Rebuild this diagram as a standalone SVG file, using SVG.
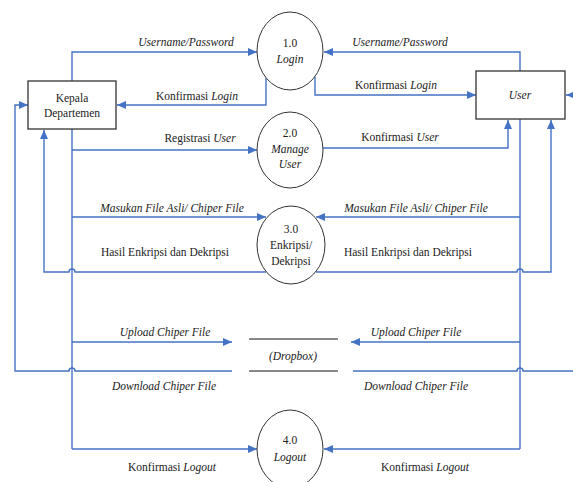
<svg xmlns="http://www.w3.org/2000/svg" width="573" height="482" viewBox="0 0 573 482">
<style>
text{font-family:"Liberation Serif","Times New Roman",serif;font-size:11.5px;fill:#222;text-anchor:middle}
.i{font-style:italic}
.c{fill:#fff;stroke:#333;stroke-width:1}
.b{fill:#fff;stroke:#333;stroke-width:1.3}
.f{fill:none;stroke:#4472C4;stroke-width:1.4}
.a{marker-end:url(#ah)}
.s{stroke:#111;stroke-width:1}
</style>
<defs>
<marker id="ah" markerUnits="userSpaceOnUse" markerWidth="10" markerHeight="8" refX="9" refY="4" orient="auto">
<path d="M0,0 L9,4 L0,8 Z" fill="#4472C4"/>
</marker>
</defs>
<rect width="573" height="482" fill="#fff"/>
<g id="connectors">
<path class="f a" d="M72 81 V52 H257"/>
<path class="f a" d="M266 78 V105 H117"/>
<path class="f" d="M72 129 V449"/>
<path class="f a" d="M72 150 H257"/>
<path class="f a" d="M72 217 H266"/>
<path class="f a" d="M72 342 H232"/>
<path class="f a" d="M72 449 H257"/>
<path class="f a" d="M266 272 H75 A3 3 0 0 0 69 272 H44 V130"/>
<path class="f a" d="M232 371 H75 A3 3 0 0 0 69 371 H15 V105 H28"/>
<path class="f a" d="M520 71 V52 H324"/>
<path class="f a" d="M315 77 V95 H476"/>
<path class="f a" d="M323 148 H508 V120"/>
<path class="f" d="M520 119 V449"/>
<path class="f a" d="M520 217 H316"/>
<path class="f a" d="M520 342 H351"/>
<path class="f a" d="M520 449 H324"/>
<path class="f a" d="M316 272 H517 A3 3 0 0 1 523 272 H551 V120"/>
<path class="f a" d="M353 371 H517 A3 3 0 0 1 523 371 H575 V95 H566"/>
</g>
<g id="kepala">
<rect class="b" x="28" y="81" width="88" height="48"/>
<text x="72" y="102">Kepala</text>
<text x="72" y="117">Departemen</text>
</g>
<g id="user">
<rect class="b" x="476" y="71" width="89" height="48"/>
<text class="i" x="520" y="99">User</text>
</g>
<g id="p1">
<ellipse class="c" cx="290" cy="51" rx="33" ry="39"/>
<text x="290" y="47">1.0</text>
<text class="i" x="290" y="63">Login</text>
</g>
<g id="p2">
<ellipse class="c" cx="290" cy="150" rx="33" ry="38"/>
<text x="290" y="137">2.0</text>
<text class="i" x="290" y="153">Manage</text>
<text class="i" x="290" y="168">User</text>
</g>
<g id="p3">
<ellipse class="c" cx="291" cy="245" rx="34" ry="39"/>
<text x="291" y="233">3.0</text>
<text x="291" y="249">Enkripsi/</text>
<text x="291" y="265">Dekripsi</text>
</g>
<g id="dropbox">
<line class="s" x1="249" y1="339" x2="338" y2="339"/>
<line class="s" x1="249" y1="371" x2="338" y2="371"/>
<text class="i" x="293" y="360">(Dropbox)</text>
</g>
<g id="p4">
<ellipse class="c" cx="290" cy="449" rx="33" ry="39"/>
<text x="290" y="444">4.0</text>
<text class="i" x="290" y="461">Logout</text>
</g>
<g id="labels">
<text class="i" x="186" y="46">Username/Password</text>
<text x="197" y="100">Konfirmasi <tspan class="i">Login</tspan></text>
<text x="200" y="142">Registrasi <tspan class="i">User</tspan></text>
<text class="i" x="172" y="212">Masukan File Asli/ Chiper File</text>
<text x="165" y="256">Hasil Enkripsi dan Dekripsi</text>
<text class="i" x="165" y="336">Upload Chiper File</text>
<text class="i" x="164" y="390">Download Chiper File</text>
<text x="172" y="471">Konfirmasi <tspan class="i">Logout</tspan></text>
<text class="i" x="400" y="46">Username/Password</text>
<text x="396" y="89">Konfirmasi <tspan class="i">Login</tspan></text>
<text x="400" y="141">Konfirmasi <tspan class="i">User</tspan></text>
<text class="i" x="416" y="212">Masukan File Asli/ Chiper File</text>
<text x="408" y="256">Hasil Enkripsi dan Dekripsi</text>
<text class="i" x="416" y="336">Upload Chiper File</text>
<text class="i" x="416" y="390">Download Chiper File</text>
<text x="425" y="471">Konfirmasi <tspan class="i">Logout</tspan></text>
</g>
</svg>
